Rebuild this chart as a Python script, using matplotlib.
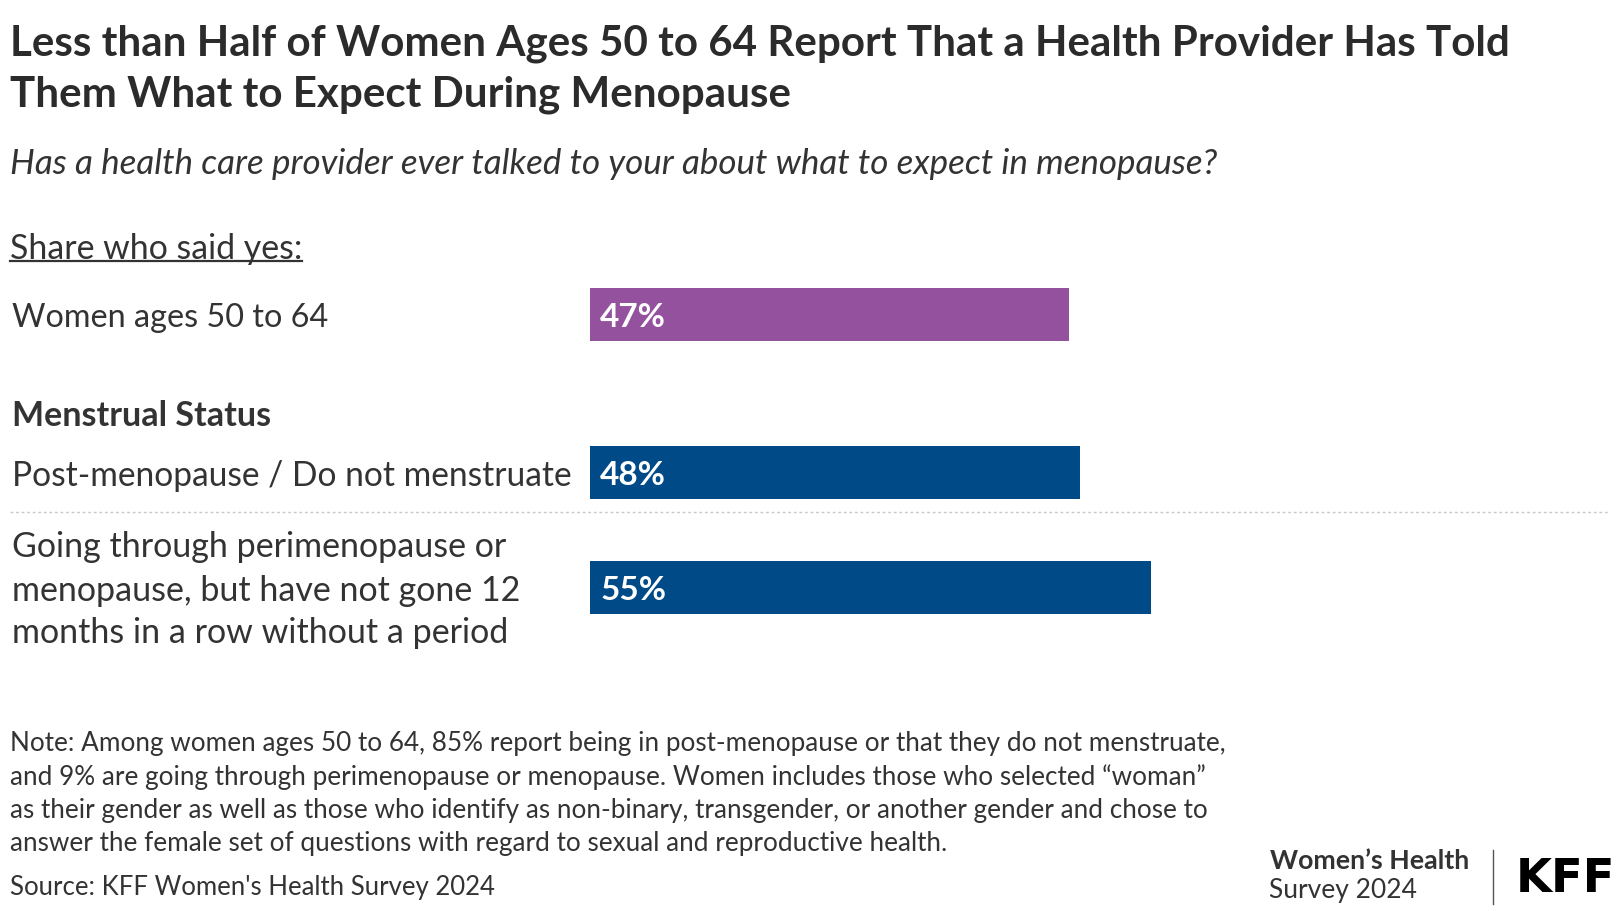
import matplotlib
matplotlib.use("Agg")
import matplotlib.pyplot as plt
from matplotlib.lines import Line2D

W, H = 1620, 912
categories = ["Women ages 50 to 64",
              "Post-menopause / Do not menstruate",
              "Going through perimenopause or\nmenopause, but have not gone 12\nmonths in a row without a period"]
values = [47, 48, 55]
value_labels = ["47%", "48%", "55%"]
group_header = "Menstrual Status"

title_lines = ["Less than Half of Women Ages 50 to 64 Report That a Health Provider Has Told",
               "Them What to Expect During Menopause"]
subtitle = "Has a health care provider ever talked to your about what to expect in menopause?"
share_label = "Share who said yes:"
note_lines = ["Note: Among women ages 50 to 64, 85% report being in post-menopause or that they do not menstruate,",
              "and 9% are going through perimenopause or menopause. Women includes those who selected \u201cwoman\u201d",
              "as their gender as well as those who identify as non-binary, transgender, or another gender and chose to",
              "answer the female set of questions with regard to sexual and reproductive health."]
source = "Source: KFF Women's Health Survey 2024"

# layout (pixels)
bar_y = [315, 473, 588]
bar_h = 53
bar_colors = ["#93519E", "#004A88"]
TXT = "#333333"
FONT = "Lato"

plt.rcParams['font.family'] = [FONT, 'DejaVu Sans']
fig = plt.figure(figsize=(W / 100, H / 100), dpi=100)
fig.patch.set_facecolor("white")

def fx(x):
    return x / W

def fy(y):
    return 1 - y / H

# bar axes: x from 590px to 1610px = 0..100 ; y in pixel units
x0, x1 = 590, 1610
y_top, y_bot = 270, 640
ax = fig.add_axes([fx(x0), fy(y_bot), (x1 - x0) / W, (y_bot - y_top) / H])
ax.set_xlim(0, 100)
ax.set_ylim(y_bot, y_top)
ax.axis("off")
colors = [bar_colors[0], bar_colors[1], bar_colors[1]]
ax.barh(bar_y, values, height=bar_h, color=colors, left=0)
for yv, v, lab in zip(bar_y, values, value_labels):
    ax.text(1.0, yv + 3, lab, color="white", fontsize=24, fontweight="bold",
            va="center", ha="left")

# titles
for yy, line in zip([44, 95], title_lines):
    fig.text(fx(10), fy(yy), line, fontsize=30.3, fontweight="bold", color="#2b2b2b",
             va="center", ha="left")
fig.text(fx(10), fy(164), subtitle, fontsize=25.2, style="italic", color=TXT,
         va="center", ha="left")
st = fig.text(fx(10), fy(249), share_label, fontsize=24.4, color=TXT,
              va="center", ha="left")

# category labels
fig.text(fx(12), fy(318), categories[0], fontsize=23.3, color=TXT, va="center", ha="left")
fig.text(fx(12), fy(416), group_header, fontsize=24.5, fontweight="bold", color=TXT, va="center", ha="left")
fig.text(fx(12), fy(476), categories[1], fontsize=24.15, color=TXT, va="center", ha="left")
for yy, line in zip([547, 591, 633], categories[2].split("\n")):
    fig.text(fx(12), fy(yy), line, fontsize=24.5, color=TXT, va="center", ha="left")

# dotted separator
fig.add_artist(Line2D([fx(10), fx(1608)], [fy(513), fy(513)], color="#c8c8c8",
                      lw=1, linestyle=(0, (2, 2))))

# note & source
for yy, line in zip([744, 777, 811, 844], note_lines):
    fig.text(fx(10), fy(yy), line, fontsize=18.8, color=TXT, va="center", ha="left")
fig.text(fx(10), fy(888), source, fontsize=18.5, color=TXT, va="center", ha="left")

# logo
fig.text(fx(1469), fy(861), "Women\u2019s Health", fontsize=19.3, fontweight="bold", color=TXT,
         va="center", ha="right")
fig.text(fx(1269), fy(891), "Survey 2024", fontsize=19, color=TXT, va="center", ha="left")
fig.add_artist(Line2D([fx(1493), fx(1493)], [fy(851), fy(905)], color="#555555", lw=1))
fig.text(fx(1615), fy(880), "KFF", fontsize=33.5, fontweight="bold", color="black",
         va="center", ha="right", family="DejaVu Sans")

# underline for share label
fig.canvas.draw()
r = fig.canvas.get_renderer()
bb = st.get_window_extent(renderer=r)
uy = bb.y0 + 3
fig.add_artist(Line2D([bb.x0 / W, bb.x1 / W], [uy / H, uy / H], color=TXT, lw=1.6))

fig.savefig("out.png", dpi=100, facecolor="white")
